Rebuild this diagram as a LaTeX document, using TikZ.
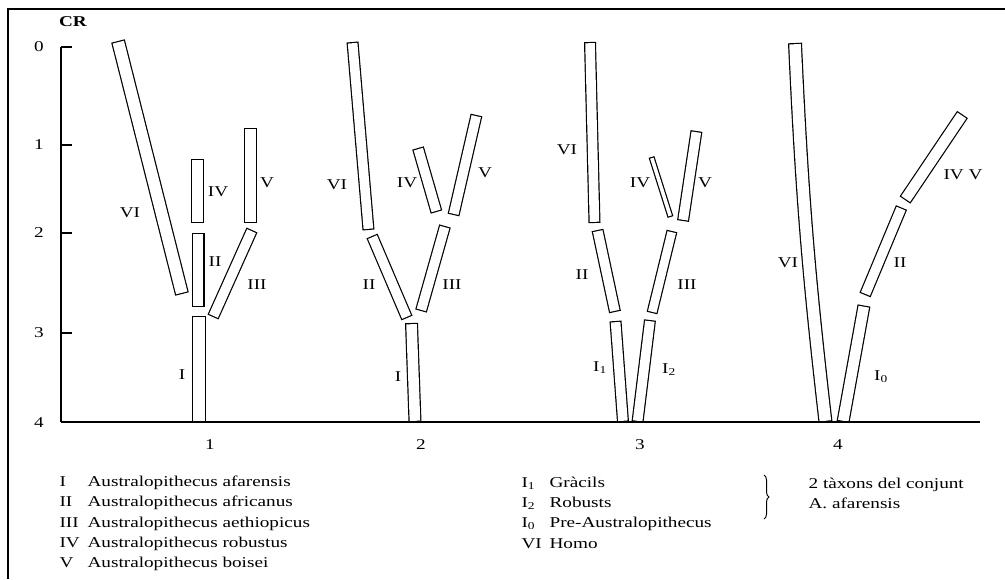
\documentclass[tikz,border=0pt]{standalone}
\usepackage{fontspec}
\setmainfont{Liberation Serif}[FakeStretch=1.28]
\usetikzlibrary{decorations.pathreplacing}
% one branch of a tree: an outlined strip along a path
\newcommand{\stem}[2][13]{%
  \draw[line width=#1pt] #2;
  \draw[white, line width=#1pt-2.4pt, shorten <=1.2pt, shorten >=1.2pt] #2;}

\begin{document}
\begin{tikzpicture}[x=1pt,y=-1pt,line width=1.2pt,
  lab/.style={font=\fontsize{15}{18}\selectfont, inner sep=0pt},
  leg/.style={lab, anchor=base west}]
\useasboundingbox (0,0) rectangle (1005,579);
\draw[line width=1.5pt] (8,579) -- (8,9) -- (1005,9);

% axis
\node[lab, font=\fontsize{15}{18}\selectfont\bfseries] (cr) at (73,22) {CR};
\draw[line width=1.5pt] (61,47) -- (61,422);
\foreach \y/\t in {47/0,145/1,233/2,333/3} {
  \draw (61,\y) -- (72,\y);
  \node[lab] (t\t) at (39,\y) {\t};
}
\node[lab] (t4) at (39,423) {4};

% tree 1
\stem[14]{(118,41) -- (182,294)}
\stem{(197.5,159) -- (197.5,223)}
\stem{(198,233) -- (198,307)}
\stem[14]{(199,316) -- (199,422)}
\stem{(250.5,128) -- (250.5,223)}
\stem[12]{(252,230) -- (213,317)}
\node[lab] (a6) at (130,213) {VI};
\node[lab] (a4) at (218,192) {IV};
\node[lab] (a5) at (267,183) {V};
\node[lab] (a2) at (215,262) {II};
\node[lab] (a3) at (257,285) {III};
\node[lab] (a1) at (182,375) {I};

% tree 2
\stem[12]{(352.5,42) -- (368.5,230)}
\stem[12]{(372,236) -- (407,318)}
\stem{(411.5,323) -- (415,422)}
\stem[12]{(445,226) -- (421,311)}
\stem[12]{(418,148) -- (436.5,212)}
\stem[12]{(476.5,115) -- (453.5,215)}
\node[lab] (b6) at (337,185) {VI};
\node[lab] (b4) at (407,183) {IV};
\node[lab] (b5) at (485,173) {V};
\node[lab] (b2) at (369,285) {II};
\node[lab] (b3) at (452,285) {III};
\node[lab] (b1) at (398,377) {I};

% tree 3
\stem[12]{(590,42) -- (594.5,223)}
\stem[12]{(597.5,230) -- (615,312)}
\stem[12]{(615.5,321) -- (623,422)}
\stem[12]{(650,320) -- (637.5,422)}
\stem[11]{(672,231) -- (652,313)}
\stem[6]{(651.5,157) -- (670.5,217)}
\stem[12]{(696.5,131) -- (683,221)}
\node[lab] (c6) at (567,150) {VI};
\node[lab] (c4) at (640,183) {IV};
\node[lab] (c5) at (705,183) {V};
\node[lab] (c2) at (582,275) {II};
\node[lab] (c3) at (687,285) {III};
\node[lab] (c11) at (600,368) {I\textsubscript{1}};
\node[lab] (c12) at (669,370) {I\textsubscript{2}};

% tree 4
\stem[14]{(795,43) to[bend right=2] (825.5,422)}
\stem{(864,305.5) -- (843,422)}
\stem[12]{(901.5,207.5) -- (865,295)}
\stem{(962.5,114.5) -- (905,200)}
\node[lab] (d6) at (788,263) {VI};
\node[lab] (d2) at (900,263) {II};
\node[lab] (d45) at (963,175) {IV V};
\node[lab] (d0) at (881,377) {I\textsubscript{0}};

% base line and tree numbers
\draw (61,422) -- (980,422);
\draw[line width=2pt] (113,422) -- (333,422);
\node[lab] (n1) at (210,445) {1};
\node[lab] (n2) at (421,445) {2};
\node[lab] (n3) at (640,445) {3};
\node[lab] (n4) at (838,445) {4};

% legend
\node[leg] (k1) at (59,486) {I};
\node[leg] (k2) at (59,506.5) {II};
\node[leg] (k3) at (59,527) {III};
\node[leg] (k4) at (59,547) {IV};
\node[leg] (k5) at (59,567) {V};
\node[leg] (s1) at (87,486) {Australopithecus afarensis};
\node[leg] (s2) at (87,506.5) {Australopithecus africanus};
\node[leg] (s3) at (87,527) {Australopithecus aethiopicus};
\node[leg] (s4) at (87,547) {Australopithecus robustus};
\node[leg] (s5) at (87,567) {Australopithecus boisei};
\node[leg] (m1) at (521,487) {I\textsubscript{1}};
\node[leg] (m2) at (521,507) {I\textsubscript{2}};
\node[leg] (m3) at (521,527) {I\textsubscript{0}};
\node[leg] (m4) at (521,548) {VI};
\node[leg] (r1) at (549,487) {Gràcils};
\node[leg] (r2) at (549,507) {Robusts};
\node[leg] (r3) at (549,527) {Pre-Australopithecus};
\node[leg] (r4) at (549,548) {Homo};
\draw[line width=1pt, decorate, decoration={brace, amplitude=5pt}] (764,475) -- (764,519);
\node[leg] (g1) at (808,488) {2 tàxons del conjunt};
\node[leg] (g2) at (808,508) {A. afarensis};
\end{tikzpicture}
\end{document}
